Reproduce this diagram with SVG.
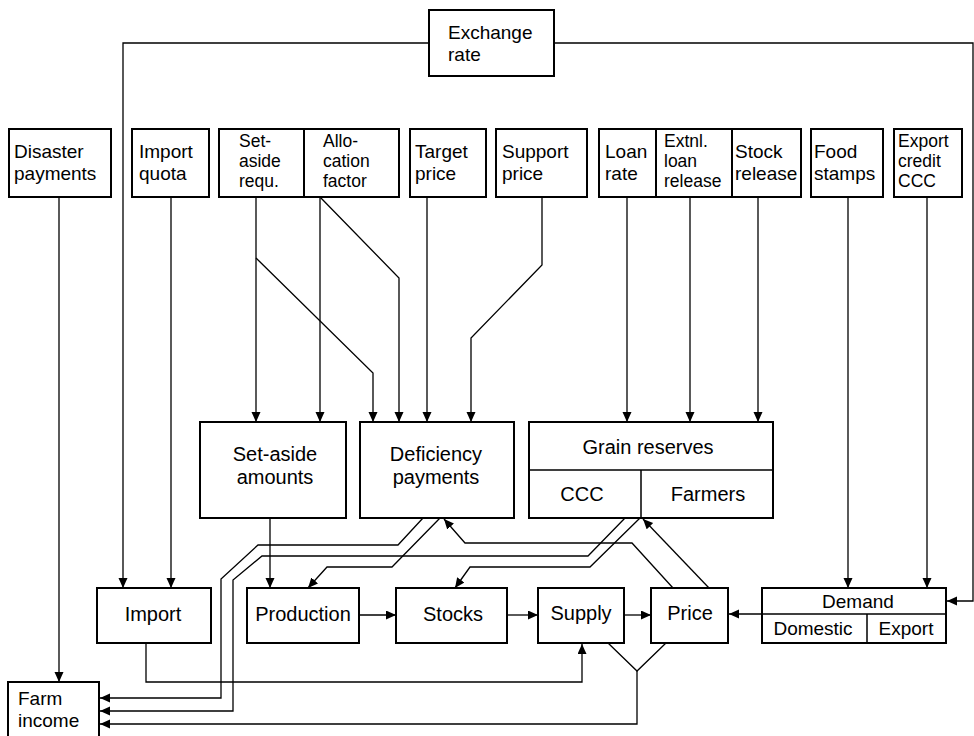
<svg xmlns="http://www.w3.org/2000/svg" width="974" height="736" viewBox="0 0 974 736">
<style>
.b{fill:#fff;stroke:#000;stroke-width:2}
.d{fill:none;stroke:#000;stroke-width:1.5}
.t{font-family:"Liberation Sans",Arial,sans-serif;font-size:19px;fill:#000}
.s{font-size:17.5px}
.m{font-size:20px}
.c{text-anchor:middle}
.e{fill:none;stroke:#000;stroke-width:1.3}
</style>
<defs>
<marker id="a" markerUnits="userSpaceOnUse" markerWidth="11" markerHeight="10" refX="10" refY="4.5" orient="auto">
<path d="M0,0 L10,4.5 L0,9 z" fill="#000"/>
</marker>
</defs>
<rect width="974" height="736" fill="#fff"/>

<g id="connectors">
<path class="e" d="M429,43 H123 V588" marker-end="url(#a)"/>
<path class="e" d="M554,43 H973 V601 H947" marker-end="url(#a)"/>
<path class="e" d="M59,197 V682" marker-end="url(#a)"/>
<path class="e" d="M171,197 V588" marker-end="url(#a)"/>
<path class="e" d="M256,197 V422" marker-end="url(#a)"/>
<path class="e" d="M256,258 L373,373 V422" marker-end="url(#a)"/>
<path class="e" d="M320,197 V422" marker-end="url(#a)"/>
<path class="e" d="M320,197 L399,278 V422" marker-end="url(#a)"/>
<path class="e" d="M427,197 V422" marker-end="url(#a)"/>
<path class="e" d="M542,197 V265 L471,338 V422" marker-end="url(#a)"/>
<path class="e" d="M627,197 V422" marker-end="url(#a)"/>
<path class="e" d="M690,197 V422" marker-end="url(#a)"/>
<path class="e" d="M758,197 V422" marker-end="url(#a)"/>
<path class="e" d="M848,197 V588" marker-end="url(#a)"/>
<path class="e" d="M927,197 V588" marker-end="url(#a)"/>
<path class="e" d="M270,518 V588" marker-end="url(#a)"/>
<path class="e" d="M359,615 H396" marker-end="url(#a)"/>
<path class="e" d="M507,615 H538" marker-end="url(#a)"/>
<path class="e" d="M624,615 H651" marker-end="url(#a)"/>
<path class="e" d="M762,614 H729" marker-end="url(#a)"/>
<path class="e" d="M440,518 L392,567 H327 L308,588" marker-end="url(#a)"/>
<path class="e" d="M640,518 L590,567 H470 L455,588" marker-end="url(#a)"/>
<path class="e" d="M673,588 L632,543 H465 L444,519" marker-end="url(#a)"/>
<path class="e" d="M709,588 L643,519" marker-end="url(#a)"/>
<path class="e" d="M423,518 L398,545 H258 L221,579 V698 H100" marker-end="url(#a)"/>
<path class="e" d="M625,518 L588,556 H262 L233,580 V711 H100" marker-end="url(#a)"/>
<path class="e" d="M146,643 V682 H582 V644" marker-end="url(#a)"/>
<path class="e" d="M608,643 L637,671 L666,643"/>
<path class="e" d="M637,671 V724 H100" marker-end="url(#a)"/>
</g>

<g id="exchange-rate"><rect class="b" x="429" y="10" width="125" height="66"/>
<text class="t" x="448" y="39">Exchange</text><text class="t" x="448" y="61">rate</text></g>

<g id="disaster-payments"><rect class="b" x="9" y="129" width="102" height="68"/>
<text class="t" x="14" y="158">Disaster</text><text class="t" x="14" y="180">payments</text></g>

<g id="import-quota"><rect class="b" x="132" y="129" width="77" height="68"/>
<text class="t" x="139" y="158">Import</text><text class="t" x="139" y="180">quota</text></g>

<g id="set-aside-requ"><rect class="b" x="219" y="129" width="85" height="68"/>
<text class="t s" x="239" y="147">Set-</text><text class="t s" x="239" y="167">aside</text><text class="t s" x="239" y="187">requ.</text></g>

<g id="allocation-factor"><rect class="b" x="304" y="129" width="95" height="68"/>
<text class="t s" x="323" y="147">Allo-</text><text class="t s" x="323" y="167">cation</text><text class="t s" x="323" y="187">factor</text></g>

<g id="target-price"><rect class="b" x="410" y="129" width="76" height="68"/>
<text class="t" x="415" y="158">Target</text><text class="t" x="415" y="180">price</text></g>

<g id="support-price"><rect class="b" x="496" y="129" width="91" height="68"/>
<text class="t" x="502" y="158">Support</text><text class="t" x="502" y="180">price</text></g>

<g id="loan-rate"><rect class="b" x="599" y="129" width="57" height="68"/>
<text class="t" x="605" y="158">Loan</text><text class="t" x="605" y="180">rate</text></g>

<g id="extnl-loan-release"><rect class="b" x="656" y="129" width="76" height="68"/>
<text class="t s" x="664" y="147">Extnl.</text><text class="t s" x="664" y="167">loan</text><text class="t s" x="664" y="187">release</text></g>

<g id="stock-release"><rect class="b" x="732" y="129" width="69" height="68"/>
<text class="t" x="735" y="158">Stock</text><text class="t" x="735" y="180">release</text></g>

<g id="food-stamps"><rect class="b" x="811" y="129" width="72" height="68"/>
<text class="t" x="814" y="158">Food</text><text class="t" x="814" y="180">stamps</text></g>

<g id="export-credit-ccc"><rect class="b" x="894" y="129" width="68" height="68"/>
<text class="t s" x="898" y="147">Export</text><text class="t s" x="898" y="167">credit</text><text class="t s" x="898" y="187">CCC</text></g>

<g id="set-aside-amounts"><rect class="b" x="200" y="422" width="146" height="96"/>
<text class="t m c" x="275" y="461">Set-aside</text><text class="t m c" x="275" y="484">amounts</text></g>

<g id="deficiency-payments"><rect class="b" x="360" y="422" width="154" height="96"/>
<text class="t m c" x="436" y="461">Deficiency</text><text class="t m c" x="436" y="484">payments</text></g>

<g id="grain-reserves"><rect class="b" x="529" y="422" width="244" height="96"/>
<path class="d" d="M529,470 H773 M641,470 V518"/>
<text class="t m c" x="648" y="454">Grain reserves</text>
<text class="t m c" x="582" y="501">CCC</text><text class="t m c" x="708" y="501">Farmers</text></g>

<g id="import"><rect class="b" x="97" y="588" width="114" height="55"/>
<text class="t m c" x="153" y="621">Import</text></g>

<g id="production"><rect class="b" x="247" y="588" width="112" height="55"/>
<text class="t m c" x="303" y="621">Production</text></g>

<g id="stocks"><rect class="b" x="396" y="588" width="111" height="55"/>
<text class="t m c" x="453" y="621">Stocks</text></g>

<g id="supply"><rect class="b" x="538" y="588" width="86" height="55"/>
<text class="t m c" x="581" y="620">Supply</text></g>

<g id="price"><rect class="b" x="651" y="588" width="77" height="55"/>
<text class="t m c" x="690" y="620">Price</text></g>

<g id="demand"><rect class="b" x="762" y="588" width="184" height="55"/>
<path class="d" d="M762,614 H946 M867,614 V643"/>
<text class="t c" x="858" y="608">Demand</text>
<text class="t c" x="813" y="635">Domestic</text><text class="t c" x="906" y="635">Export</text></g>

<g id="farm-income"><rect class="b" x="8" y="682" width="91" height="60"/>
<text class="t" x="18" y="705">Farm</text><text class="t" x="18" y="727">income</text></g>
</svg>
